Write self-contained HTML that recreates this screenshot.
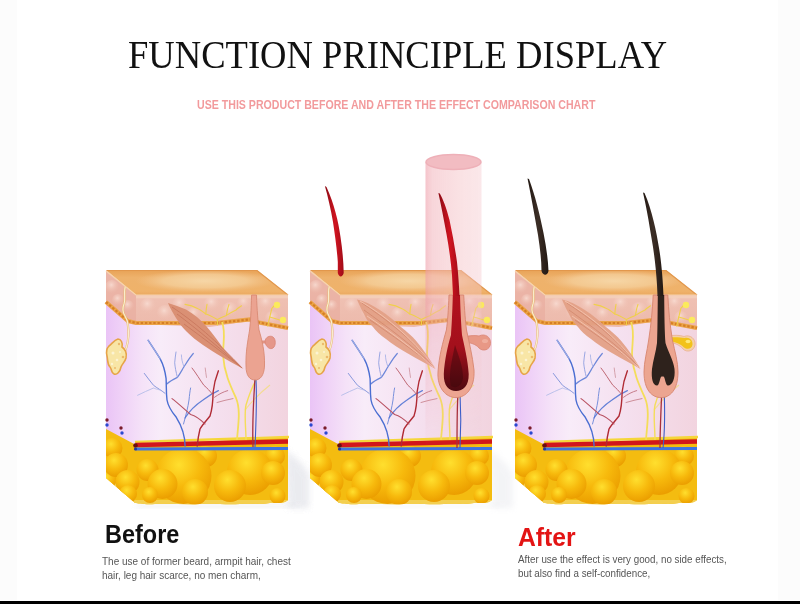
<!DOCTYPE html>
<html><head><meta charset="utf-8">
<style>
html,body{margin:0;padding:0;background:#fff;}
body{width:800px;height:604px;position:relative;overflow:hidden;font-family:"Liberation Sans",sans-serif;}
.band{position:absolute;top:0;height:600px;background:#fcfcfc;}
#title{position:absolute;left:128px;top:30px;font-family:"Liberation Serif",serif;font-size:41px;color:#111;white-space:nowrap;line-height:48px;transform:scaleX(0.892);transform-origin:0 0;}
#sub{position:absolute;left:197px;top:96.5px;font-size:12.2px;font-weight:bold;color:#f29a9c;white-space:nowrap;line-height:16px;transform:scaleX(0.87);transform-origin:0 0;}
.lbl{position:absolute;font-weight:bold;font-size:25.5px;line-height:30px;white-space:nowrap;transform:scaleX(0.92);transform-origin:0 0;}
.desc{position:absolute;font-size:11px;line-height:14px;color:#555;white-space:nowrap;transform:scaleX(0.908);transform-origin:0 0;}
#bar{position:absolute;left:0;top:601px;width:800px;height:3px;background:#000;}
svg{position:absolute;left:0;top:0;}
</style></head>
<body>
<div class="band" style="left:0;width:17px"></div>
<div class="band" style="left:778px;width:22px"></div>
<div id="title">FUNCTION PRINCIPLE DISPLAY</div>
<div id="sub">USE THIS PRODUCT BEFORE AND AFTER THE EFFECT COMPARISON CHART</div>

<svg width="800" height="604" viewBox="0 0 800 604">
<defs>
  <linearGradient id="gTop" x1="0" y1="0" x2="0" y2="1">
    <stop offset="0" stop-color="#e8a256"/>
    <stop offset="0.3" stop-color="#eeb26c"/>
    <stop offset="0.85" stop-color="#efb26a"/>
    <stop offset="1" stop-color="#eaa860"/>
  </linearGradient>
  <radialGradient id="gTopHi" gradientUnits="userSpaceOnUse" cx="205" cy="281" r="70" gradientTransform="translate(205 281) scale(1 0.16) translate(-205 -281)">
    <stop offset="0" stop-color="#f6d6a6" stop-opacity="1"/>
    <stop offset="0.6" stop-color="#f4cc96" stop-opacity="0.85"/>
    <stop offset="1" stop-color="#f2c088" stop-opacity="0"/>
  </radialGradient>
  <linearGradient id="gDerm" gradientUnits="userSpaceOnUse" x1="106" y1="0" x2="288" y2="0">
    <stop offset="0" stop-color="#eac4f6"/>
    <stop offset="0.08" stop-color="#efd0f7"/>
    <stop offset="0.2" stop-color="#f5e2f8"/>
    <stop offset="0.3" stop-color="#f8ecf9"/>
    <stop offset="0.6" stop-color="#f5e0ef"/>
    <stop offset="1" stop-color="#f2d4df"/>
  </linearGradient>
  <linearGradient id="gPapBand" x1="0" y1="0" x2="0" y2="1">
    <stop offset="0" stop-color="#f2c8ba"/>
    <stop offset="1" stop-color="#ecb8aa"/>
  </linearGradient>
  <radialGradient id="gFat" cx="0.42" cy="0.3" r="0.7">
    <stop offset="0" stop-color="#ffdf2e"/>
    <stop offset="0.55" stop-color="#f7b90c"/>
    <stop offset="1" stop-color="#eb9e00"/>
  </radialGradient>
  <radialGradient id="gPap" cx="0.45" cy="0.35" r="0.6">
    <stop offset="0" stop-color="#f8dcd2" stop-opacity="0.9"/>
    <stop offset="1" stop-color="#f0c0b2" stop-opacity="0"/>
  </radialGradient>
  <linearGradient id="gLaser" x1="0" y1="0" x2="1" y2="0">
    <stop offset="0" stop-color="#ee9ca8" stop-opacity="0.6"/>
    <stop offset="0.12" stop-color="#f2b4bc" stop-opacity="0.55"/>
    <stop offset="0.6" stop-color="#f5c4c8" stop-opacity="0.5"/>
    <stop offset="1" stop-color="#f4c4ca" stop-opacity="0.4"/>
  </linearGradient>
  <linearGradient id="gLaserV" x1="0" y1="0" x2="0" y2="1">
    <stop offset="0" stop-color="#fff" stop-opacity="1"/>
    <stop offset="0.45" stop-color="#fff" stop-opacity="1"/>
    <stop offset="0.65" stop-color="#fff" stop-opacity="0.55"/>
    <stop offset="1" stop-color="#fff" stop-opacity="0"/>
  </linearGradient>
  <mask id="mLaser"><rect x="420" y="150" width="70" height="300" fill="url(#gLaserV)"/></mask>
  <clipPath id="cFat"><path d="M106,429 L136,445 L288,437 L288,500 C284,504 276,503 270,503 C260,505 250,503 240,504 C225,505 215,503 200,504 C185,505 170,503 155,504 C145,505 138,503 135,503 L106,478 Z"/></clipPath>
  <clipPath id="cPap"><path d="M106,270 L136,295 L288,295 L288,330 L262,324 L250,321 L210,327 L136,324 L106,303 Z"/></clipPath>

  <g id="blk">
    <!-- dermis whole -->
    <path d="M106,270 L136,295 L288,295 L288,460 L106,460 Z" fill="url(#gDerm)"/>
    <!-- papillae band -->
    <g clip-path="url(#cPap)">
      <rect x="100" y="265" width="195" height="70" fill="url(#gPapBand)"/>
      <path d="M106,270 L136,295 L136,330 L100,330 Z" fill="#e8aa9c" opacity="0.6"/>
      <g fill="url(#gPap)">
        <circle cx="112" cy="287" r="7"/><circle cx="118" cy="300" r="6"/><circle cx="128" cy="306" r="6"/>
        <circle cx="148" cy="306" r="8"/><circle cx="165" cy="313" r="8"/><circle cx="180" cy="305" r="8"/>
        <circle cx="194" cy="314" r="7"/><circle cx="212" cy="304" r="8"/><circle cx="230" cy="310" r="8"/>
        <circle cx="244" cy="303" r="7"/><circle cx="266" cy="303" r="7"/><circle cx="272" cy="318" r="7"/>
      </g>
    </g>
    <!-- dotted boundary -->
    <path d="M106,302 L128,321 L136,323 L216,323 L250,319.5 L259,322.5 L288,328" fill="none" stroke="#eba448" stroke-width="4.2"/>
    <path d="M106,302 L128,321 L136,323 L216,323 L250,319.5 L259,322.5 L288,328" fill="none" stroke="#d67e26" stroke-width="2.2" stroke-dasharray="2.4 1.8"/>
    <!-- yellow nerve net in papillae -->
    <g fill="none" stroke="#f0d04a" stroke-width="1.1" stroke-linecap="round">
      <path d="M217.4,325 L217.4,319.5 C213,317 209,315 205.8,314 C202,311 199,309 197.5,308.5 C193,306 189,305 185,304.4"/>
      <path d="M205.8,314 C206,310 206.5,307 207,304.4"/>
      <path d="M217.4,319.5 C220,318 223,316.5 226.4,315.4 C230,313 233,311.5 236,310 C238,308 240,307 241.5,305.8"/>
      <path d="M226.4,315.4 C227,311 228,307 229,304.4"/>
      <path d="M267.7,326 C269,320 270.5,314 271.8,308.5 C273,306.5 275,305 277,304.4"/>
      <path d="M269.5,317 C274,318 279,320 283.5,321"/>
    </g>
    <circle cx="277" cy="305" r="3.2" fill="#fbea5c"/>
    <circle cx="283" cy="320" r="3.2" fill="#fbea5c"/>
    <!-- fat layer -->
    <g clip-path="url(#cFat)">
      <rect x="100" y="425" width="195" height="85" fill="#f4bc10"/>
      <path d="M106,474 L135,500 L288,500 L288,510 L100,510 Z" fill="#f3cf50"/>
      <g fill="url(#gFat)">
        <circle cx="112.5" cy="448" r="10"/><circle cx="107.5" cy="480" r="9"/>
        <circle cx="116" cy="465" r="12"/><circle cx="127.5" cy="482" r="12"/><circle cx="128" cy="494" r="9"/>
        <circle cx="206" cy="456" r="11"/><circle cx="275" cy="456" r="10"/>
        <circle cx="183.5" cy="476" r="28"/>
        <circle cx="147.5" cy="470" r="11"/>
        <circle cx="250" cy="472" r="23"/><circle cx="273" cy="473" r="12"/>
        <circle cx="162.5" cy="484" r="15"/><circle cx="195" cy="492" r="13"/>
        <circle cx="230" cy="486" r="16"/><circle cx="277.5" cy="496" r="8"/>
        <circle cx="150" cy="495" r="8"/>
      </g>
    </g>
    <!-- vessel band -->
    <path d="M135,442 L289,437" stroke="#f5d63a" stroke-width="2.5"/>
    <path d="M135.5,445 L288,441.5" stroke="#d1161c" stroke-width="4.5"/>
    <circle cx="135.5" cy="445.5" r="2.3" fill="#6a0e10"/>
    <path d="M135.5,449 L288,448.5" stroke="#3f74e0" stroke-width="3.2"/>
    <circle cx="135.5" cy="449" r="1.6" fill="#2438a0"/>
    <!-- small dots on side -->
    <circle cx="107" cy="420" r="1.7" fill="#7a1c2a"/><circle cx="107" cy="425" r="1.7" fill="#2a48d0"/>
    <circle cx="121" cy="428" r="1.7" fill="#7a1c2a"/><circle cx="122" cy="433" r="1.7" fill="#2a48d0"/>
    <!-- sweat gland + nerve -->
    <path d="M125.8,285 C123,292 126,298 124,304 C122,309 123,313 125,316 C127,319 128,322 128,326 C129,333 128.5,340 126.5,347 C125.5,350 124.5,352 124,354" fill="none" stroke="#e9b87a" stroke-width="2.2"/>
    <path d="M125.8,285 C123,292 126,298 124,304 C122,309 123,313 125,316 C127,319 128,322 128,326 C129,333 128.5,340 126.5,347 C125.5,350 124.5,352 124,354" fill="none" stroke="#faf0d0" stroke-width="1.1"/>
    <path d="M118,339 C121,339 123,343 122,347 C125,349 127,353 126,358 C125,362 122,364 121,367 C120,372 117,375 114,374 C111,373 112,369 110,367 C107,364 108,360 107,356 C106,352 107,348 109,346 C112,344 114,340 118,339 Z" fill="#f8e6a6" stroke="#e6a448" stroke-width="1.6"/>
    <g fill="#fdf6d8" opacity="0.9"><circle cx="113" cy="353" r="1.5"/><circle cx="117" cy="360" r="1.3"/><circle cx="112" cy="364" r="1.2"/><circle cx="120" cy="352" r="1"/></g>
    <g fill="#eab060" opacity="0.8"><circle cx="119" cy="344" r="1.2"/><circle cx="123" cy="357" r="1.3"/><circle cx="115" cy="368" r="1"/></g>
    <!-- blue tree -->
    <g fill="none" stroke="#4a6ed2" stroke-linecap="round" stroke-linejoin="round">
      <path d="M185.1,446 C185,436 183,428 176.3,417.3 C171,411 168,406 167,400 C166,392 166.5,386 166.1,378.7 C165,370 163,364 160.2,358.8 C156,352 152,346 148.2,340.3" stroke-width="1.4"/>
      <path d="M160.2,358.8 C156,352 152,346 148.2,340.3" stroke="#9aa8e2" stroke-width="1.2"/>
      <path d="M166.8,384 C170,381 174,379 177.4,377.4 C180,374 182,370 184,366.8 C187,362 190,357 193.3,353.5" stroke-width="1.2" opacity="0.8"/>
      <path d="M177.4,377.4 C176,372 175,367 174.7,362.8 C175,359 175.5,355 176,352" stroke="#8e9ee0" stroke-width="0.9"/>
      <path d="M184,366.8 C182,362 181.5,358 181.4,354.9" stroke="#a0ace4" stroke-width="0.8"/>
      <path d="M165,393.3 C161,390 157,388 153.5,385.3 C150,381 147,377 144.3,373.4" stroke="#8898dc" stroke-width="1"/>
      <path d="M160,390 C156,389 153,388 153.5,388 C148,390 143,393 137.6,395.3" stroke="#b4bce8" stroke-width="0.9"/>
      <path d="M183.5,424 C186,415 188,407 189,400 C189.5,395 190,391 190.6,388" stroke="#7890dc" stroke-width="1"/>
      <path d="M185,418 C190,410 197,404 203,400 C208,396 213,393 218.4,390.6" stroke-width="1.2" opacity="0.85"/>
    </g>
    <!-- red tree -->
    <g fill="none" stroke="#b02a34" stroke-linecap="round" stroke-linejoin="round">
      <path d="M197.2,446 C198,438 199,433 200,429 C203,424 207,420 210,416 C212,410 213,402 213.1,392 C214,384 216,377 218.4,370.8" stroke-width="1.4"/>
      <path d="M205,424 C200,419 196,416 190.6,414.5 C184,409 178,403 172,398.6" stroke="#b85060" stroke-width="1.1"/>
      <path d="M213,395 C210,391 207,388 203.9,385.3 C200,380 196,373 192,368" stroke="#bf6874" stroke-width="1"/>
      <path d="M206.5,377.4 C206,374 205.5,371 205.2,368" stroke="#cc909a" stroke-width="0.8"/>
      <path d="M214.5,397.3 C219,394 223,392 227.7,390.6" stroke="#c07080" stroke-width="0.9"/>
      <path d="M217,402.5 C222,401 228,399.5 233,398.6" stroke="#c88490" stroke-width="0.9"/>
    </g>
    <!-- yellow nerves -->
    <g fill="none" stroke="#f4dd5a">
      <path d="M237,440 C238,425 241,410 236,398 C230,385 224,372 223,355 C223,342 226,332 222,322" stroke-width="1.8"/>
      <path d="M246,440 C246,428 244,415 246,405 C249,395 252,387 256,380" stroke-width="1.4"/>
      <path d="M245,410 C253,400 261,392 270,385" stroke-width="1.1" opacity="0.6"/>
    </g>
    <!-- top face -->
    <path d="M106,270 L257,270 L288,295 L136,295 Z" fill="url(#gTop)"/>
    <path d="M106,270 L257,270 L288,295 L136,295 Z" fill="url(#gTopHi)"/>
    <path d="M107,270.5 L257,270.5 L288,295" fill="none" stroke="#e2974c" stroke-width="1.2"/>
    <path d="M106,271 L136,295 L288,295" fill="none" stroke="#f7d4ac" stroke-width="1.2"/>
    <path d="M136,297 L288,297" stroke="#f5d2bc" stroke-width="2.5" opacity="0.8"/>
  </g>
</defs>


<filter id="fBlur" x="-20%" y="-20%" width="140%" height="140%"><feGaussianBlur stdDeviation="3"/></filter>
<g id="shd"><path d="M286,450 L300,462 L309,474 L309,508 L288,508 Z" fill="#c8cad6" opacity="0.2" filter="url(#fBlur)"/><path d="M136,503 L288,503 L300,508 L136,508 Z" fill="#c8cad6" opacity="0.12" filter="url(#fBlur)"/></g>
<use href="#shd"/><use href="#shd" x="204"/>
<use href="#blk"/>
<use href="#blk" x="204"/>
<use href="#blk" x="409"/>
<!-- muscle left -->
    <path d="M168,303 C174,305 180,307 186,309.5 C194,314 201,320 207,327 C213,334 218,341 223,348 C229,355 237,362 243.5,369 C236,365 229,361 222,357 C215,353 209,349 203,345 C197,341 191,336 186,331 C182,327 179,323 176,318 C173,313 170,308 168,303 Z" fill="#da9074"/>
    <g fill="none" stroke="#bf6a52" stroke-width="0.8" opacity="0.7">
      <path d="M172,307 C192,320 218,342 242,368"/><path d="M177,314 C197,329 222,350 242,368"/><path d="M184,324 C202,337 224,354 241,367"/>
    </g>
    
<g transform="translate(204 0)"><!-- muscle big -->
<g id="mus2">
  <path d="M153,299.5 C160,301 168,305 175,309.4 C184,315 191,321 197,327 C203,332 208,336 212,340.7 C219,349 226,359 231.5,369 C223,364 213,359 204.7,354 C196,349 188,344 182,339 C176,335 172,331 169,327 C165,323 162,319 160,314 C157,309 155,304 153,299.5 Z" fill="#e3a086" opacity="0.95"/>
  <g fill="none" stroke="#c97a60" stroke-width="0.9" opacity="0.6">
    <path d="M158,303 C180,318 208,338 230,367"/><path d="M160,310 C182,326 210,346 230,367"/><path d="M166,320 C186,334 212,352 229,366"/>
  </g>
  <g fill="none" stroke="#f6c8b4" stroke-width="1" opacity="0.8">
    <path d="M156,301 C178,314 206,335 231,368"/><path d="M163,316 C184,330 210,349 229,367"/>
  </g>
</g>
</g>
<g transform="translate(409 0)"><use href="#mus2"/></g>
<!-- laser cylinder -->
<g mask="url(#mLaser)">
  <rect x="425.5" y="162" width="56" height="288" fill="url(#gLaser)"/>
</g>
<ellipse cx="453.5" cy="162" rx="27.5" ry="7.5" fill="#f2bcc2" stroke="#eeb0b8" stroke-width="1.5"/>
<defs>
  <linearGradient id="gBulbR" x1="0" y1="0" x2="0" y2="1">
    <stop offset="0" stop-color="#b3121e"/>
    <stop offset="0.55" stop-color="#a3101c"/>
    <stop offset="1" stop-color="#4e0a10"/>
  </linearGradient>
</defs>
<!-- LEFT follicle -->
<g>
  <path d="M255,378 C254,395 252,420 253,447" fill="none" stroke="#a8303c" stroke-width="1.3"/>
  <path d="M256,380 C257,400 256,425 255,447" fill="none" stroke="#3d5ec8" stroke-width="1.1"/>
  <path d="M258,342 L268,342" stroke="#e29484" stroke-width="3"/>
  <path d="M265,342 C265,337 270,335 273,337 C276,339 276,346 273,348 C270,350 266,347 265,342 Z" fill="#e5978a" stroke="#d98474" stroke-width="0.8"/>
  <path d="M251.6,295 L256.5,295 C257,310 258,322 259,330 C262,340 265,352 264.5,366 C264,376 260,380 255,380 C250,380 246,376 246,366 C245.5,352 248,340 249.6,330 C250.5,322 251.2,310 251.6,295 Z" fill="#eba391" stroke="#d98a74" stroke-width="0.9"/>
</g>
<!-- MIDDLE -->
<g>
  <path d="M458,392 C457,410 457,430 457,448" fill="none" stroke="#a8303c" stroke-width="1.3"/>
  <path d="M460,392 C461,410 461,430 460,448" fill="none" stroke="#3d5ec8" stroke-width="1.1"/>
  <path d="M462,337 C468,336 474,335 479,336 C485,333 491,337 490.5,343.5 C490,350 483,352 479,348 C476,344 469,342 462,342 Z" fill="#e89886" stroke="#d98474" stroke-width="0.8"/>
  <ellipse cx="485" cy="341" rx="3" ry="2" fill="#f2b8a8" opacity="0.7"/>
  <path d="M449,295 L463.7,295 C464.5,310 465.5,322 466.5,330 C469,342 472.5,356 474,370 C475,388 466,397.6 456,397.6 C446,397.6 437,388 438,372 C439,356 443,342 446.4,330 C447.5,322 448.5,310 449,295 Z" fill="#eda591" stroke="#d7866f" stroke-width="0.9"/>
  <path d="M452.8,295 L460,295 C460.5,315 461.5,328 462,335 C464,345 468,360 468.7,374 C469,386 463,391 456,391 C449,391 443.5,386 443.8,374 C444.5,360 448,345 451,335 C451.5,328 452.3,315 452.8,295 Z" fill="url(#gBulbR)"/>
  <path d="M455,345 C452,360 448,375 451,386 C456,389 462,386 463,378 C463,365 458,355 455,345 Z" fill="#3a060a" opacity="0.45"/>
</g>
<!-- RIGHT -->
<g>
  <path d="M662,386 C661,410 660,430 660,448" fill="none" stroke="#a8303c" stroke-width="1.3"/>
  <path d="M664,386 C665,410 665,430 663,448" fill="none" stroke="#3d5ec8" stroke-width="1.1"/>
  <path d="M667,336 C674,335 680,335 684,336.5 C690,334 696,339 695,345 C694,351 687,353 683,349 C680,345 673,342 667,342 Z" fill="#f4d0a8" stroke="#eab090" stroke-width="0.8"/>
  <path d="M667,337.5 C674,337 680,337 684.5,338 C689,336.5 693,340 692.5,344.5 C692,349 687,350 684,347.5 C681,344 674,341 667,341 Z" fill="#f2c21a"/>
  <ellipse cx="688" cy="341.5" rx="2.5" ry="1.8" fill="#fff08a" opacity="0.85"/>
  <path d="M653.2,295 L667.8,295 C668.5,310 670,325 672.4,340 C675,352 678,362 678,372 C678,390 670,397.6 661,397.6 C652,397.6 644,390 644,372 C644,362 647,352 648.7,340 C651,325 652.5,310 653.2,295 Z" fill="#eca590" stroke="#d7866f" stroke-width="0.9"/>
  <path d="M657.8,295 L664.2,295 C664.4,315 664.6,333 665.5,343 C668,352 673.5,360 674.5,369 C675.5,379 672,385.5 668,385.5 C665.5,385.5 665,377 663.5,376.5 L661.5,376.5 C660,377 659.5,385.5 657,385.5 C653,385.5 651,379 652,369 C653,360 656,352 657,343 C657.5,333 657.6,315 657.8,295 Z" fill="#2e221c"/>
</g>
<!-- hairs above -->
<defs>
  <linearGradient id="gHairR" x1="0" y1="0" x2="1" y2="0">
    <stop offset="0" stop-color="#8a0a14"/><stop offset="0.55" stop-color="#d01420"/><stop offset="1" stop-color="#a00c18"/>
  </linearGradient>
  <linearGradient id="gHairD" x1="0" y1="0" x2="1" y2="0">
    <stop offset="0" stop-color="#221812"/><stop offset="0.5" stop-color="#3c2e26"/><stop offset="1" stop-color="#221812"/>
  </linearGradient>
</defs>
<path d="M324.9,186 C328,197 331,210 333,222 C335,235 337,250 337.8,262 L337.8,273 C339,277.5 342.5,277.5 343.7,273 C343.5,262 342.5,250 340.5,237 C338.5,222 334,203 326.5,187 Z" fill="url(#gHairR)"/>
<path d="M438.4,193 C441,205 444,220 446.5,234 C449,248 451,262 452,275 L453,296 L459.5,296 C459,284 458,272 457,262 C455,248 452.5,234 449.5,220 C446.5,208 443,199 439.8,193.5 Z" fill="url(#gHairR)"/>
<path d="M527.5,178.5 C531,195 535,218 538,235 C540,248 541.5,260 541.5,271 C543,276 547.5,276 548.5,271 C548,258 546,246 543.5,233 C540,215 535,195 529,179 Z" fill="url(#gHairD)"/>
<path d="M643,192.5 C646,205 649,222 651.5,238 C654,252 656,268 657,285 L657.5,296 L663.5,296 C663,282 661.5,262 659,248 C656.5,232 652,210 644.5,193 Z" fill="url(#gHairD)"/>
</svg>

<div class="lbl" style="left:105px;top:518.5px;color:#111">Before</div>
<div class="desc" style="left:102px;top:554px">The use of former beard, armpit hair, chest<br>hair, leg hair scarce, no men charm,</div>
<div class="lbl" style="left:518px;top:522px;color:#e31414;transform:scaleX(0.97)">After</div>
<div class="desc" style="left:518px;top:552px;transform:scaleX(0.89)">After use the effect is very good, no side effects,<br>but also find a self-confidence,</div>
<div id="bar"></div>
</body></html>
